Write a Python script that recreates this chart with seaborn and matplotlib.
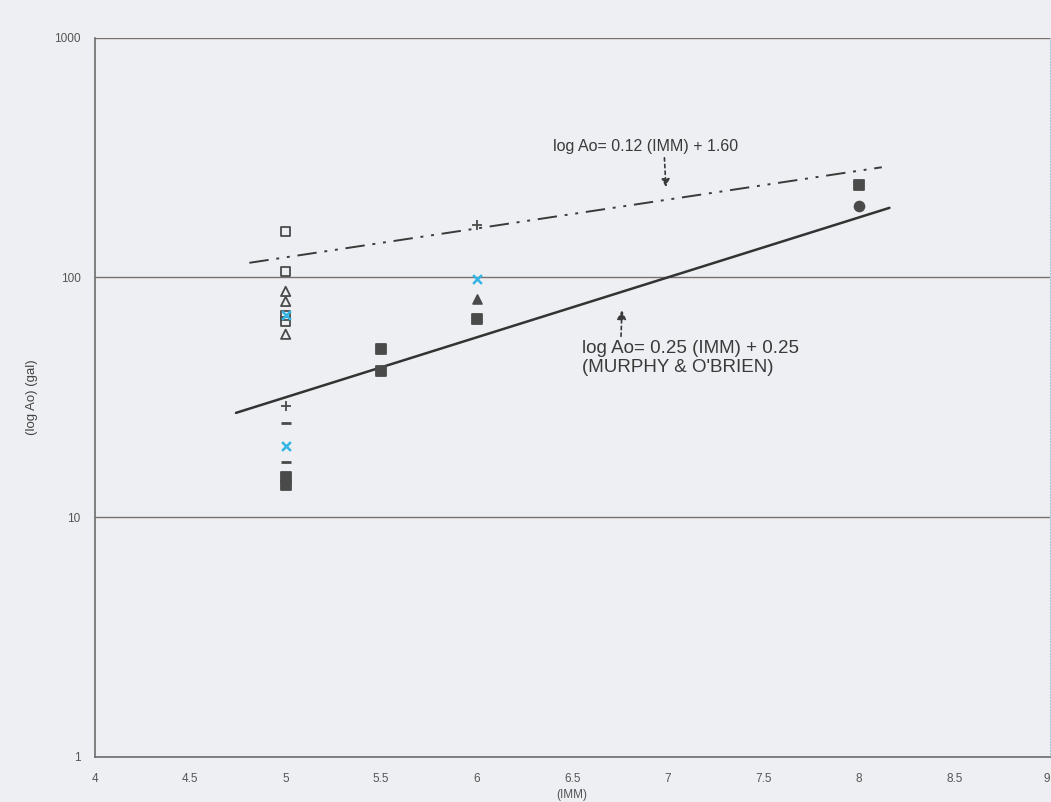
import numpy as np
import pandas as pd
import matplotlib
matplotlib.use("Agg")
import matplotlib.pyplot as plt
import seaborn as sns


# -----------------------------
# Data
# -----------------------------

# open squares
open_sq_x = [5, 5, 5, 5]
open_sq_y = [155, 106, 69.5, 65.6]

# open triangles
open_tri_x = [5, 5, 5]
open_tri_y = [87.4, 79.4, 57.9]

# cyan crosses
cyan_x_x = [5, 5, 6]
cyan_x_y = [19.8, 69.5, 98]

# short dashes
dash_x = [5, 5]
dash_y = [24.6, 16.9]

# plus signs
plus_x = [5, 6]
plus_y = [29, 166]

# filled squares
filled_sq_x = [5, 5, 5.5, 5.5, 6, 8]
filled_sq_y = [14.7, 13.6, 50.1, 40.6, 66.8, 244]

# filled triangle / circle
filled_tri_x = [6]
filled_tri_y = [81]
filled_circ_x = [8]
filled_circ_y = [198]

# fitted lines (end points as drawn)
murphy_x = [4.74, 8.16]
murphy_y = [27.2, 195]
upper_x = [4.81, 8.12]
upper_y = [115, 288]

x_ticks = [4, 4.5, 5, 5.5, 6, 6.5, 7, 7.5, 8, 8.5, 9]
x_tick_labels = ["4", "4.5", "5", "5.5", "6", "6.5", "7", "7.5", "8", "8.5", "9"]
y_ticks = [1, 10, 100, 1000]
y_tick_labels = ["1", "10", "100", "1000"]

label_upper = "log Ao= 0.12 (IMM) + 1.60"
label_murphy = "log Ao= 0.25 (IMM) + 0.25\n(MURPHY & O'BRIEN)"


# -----------------------------
# Style
# -----------------------------

paper = "#eeeff2"
ink = "#4a4a4a"

sns.set_theme(style="white")
plt.rcParams["font.family"] = ["Liberation Sans", "DejaVu Sans"]

fig = plt.figure(figsize=(10.51, 8.02), dpi=100, facecolor=paper)
ax = fig.add_axes([0.090, 0.0565, 0.909, 0.8965])
ax.set_facecolor(paper)


# -----------------------------
# Lines
# -----------------------------

sns.lineplot(x=murphy_x, y=murphy_y, ax=ax, color="#333333", lw=1.8)
sns.lineplot(x=upper_x, y=upper_y, ax=ax, color="#3a3a3a", lw=1.4)
ax.lines[-1].set_dashes((10, 4, 1.5, 4, 1.5, 4))


# -----------------------------
# Points
# -----------------------------

point_sets = [
    (open_sq_x, open_sq_y, "s", "none", ink, 45),
    (open_tri_x, open_tri_y, "^", "none", ink, 45),
    (filled_sq_x, filled_sq_y, "s", ink, ink, 45),
    (filled_tri_x, filled_tri_y, "^", ink, ink, 40),
    (filled_circ_x, filled_circ_y, "o", ink, ink, 50),
]
for xs, ys, mk, fc, ec, sz in point_sets:
    sns.scatterplot(x=xs, y=ys, ax=ax, marker=mk, s=sz,
                    facecolor=fc, edgecolor=ec, linewidth=1.3, zorder=3)

sns.scatterplot(x=cyan_x_x, y=cyan_x_y, ax=ax, marker="x", s=40,
                color="#33b5e5", linewidth=1.8, zorder=4)
sns.scatterplot(x=dash_x, y=dash_y, ax=ax, marker="_", s=60,
                color=ink, linewidth=2, zorder=3)
sns.scatterplot(x=plus_x, y=plus_y, ax=ax, marker="+", s=60,
                color=ink, linewidth=1.3, zorder=3)


# -----------------------------
# Axes
# -----------------------------

ax.set_yscale("log")
ax.set_xlim(4, 9)
ax.set_ylim(1, 1000)
ax.set_xticks(x_ticks)
ax.set_xticklabels(x_tick_labels)
ax.set_yticks(y_ticks)
ax.set_yticklabels(y_tick_labels)
ax.minorticks_off()
ax.tick_params(axis="both", labelsize=8.5, labelcolor="#555555",
               direction="in", length=4, color="#777777")
ax.tick_params(axis="x", pad=12)
ax.tick_params(axis="y", pad=10, length=0)
ax.get_xticklabels()[-1].set_horizontalalignment("right")

ax.grid(axis="y", color="#7a6f6f", lw=1.0)
ax.grid(axis="x", visible=False)

for side in ["left", "bottom"]:
    ax.spines[side].set_color("#6d6d6d")
    ax.spines[side].set_linewidth(1.2)
ax.spines["top"].set_visible(False)
ax.spines["right"].set_color("#9fc7d8")
ax.spines["right"].set_linestyle(":")
ax.spines["right"].set_linewidth(0.8)

ax.set_ylabel("(log Ao) (gal)", fontsize=9.5, color="#444444", labelpad=12)
fig.text(0.544, 0.009, "(IMM)", fontsize=8.5, color="#555555",
         ha="center", va="center")


# -----------------------------
# Annotations
# -----------------------------

ax.annotate(label_upper, xy=(6.99, 238), xytext=(6.40, 350),
            fontsize=11.5, color="#3a3a3a", va="center",
            arrowprops=dict(arrowstyle="-|>", color="#3a3a3a", lw=1.2,
                            linestyle=(0, (2, 2)),
                            shrinkA=0, shrinkB=0,
                            relpos=(0.6, 0.0)))

ax.annotate(label_murphy, xy=(6.76, 73), xytext=(6.55, 55),
            fontsize=13.5, color="#3a3a3a", va="top", linespacing=1.15,
            arrowprops=dict(arrowstyle="-|>", color="#3a3a3a", lw=1.2,
                            linestyle=(0, (2, 2)),
                            shrinkA=0, shrinkB=0,
                            relpos=(0.18, 1.0)))

fig.savefig("out.png", dpi=100, facecolor=paper)
